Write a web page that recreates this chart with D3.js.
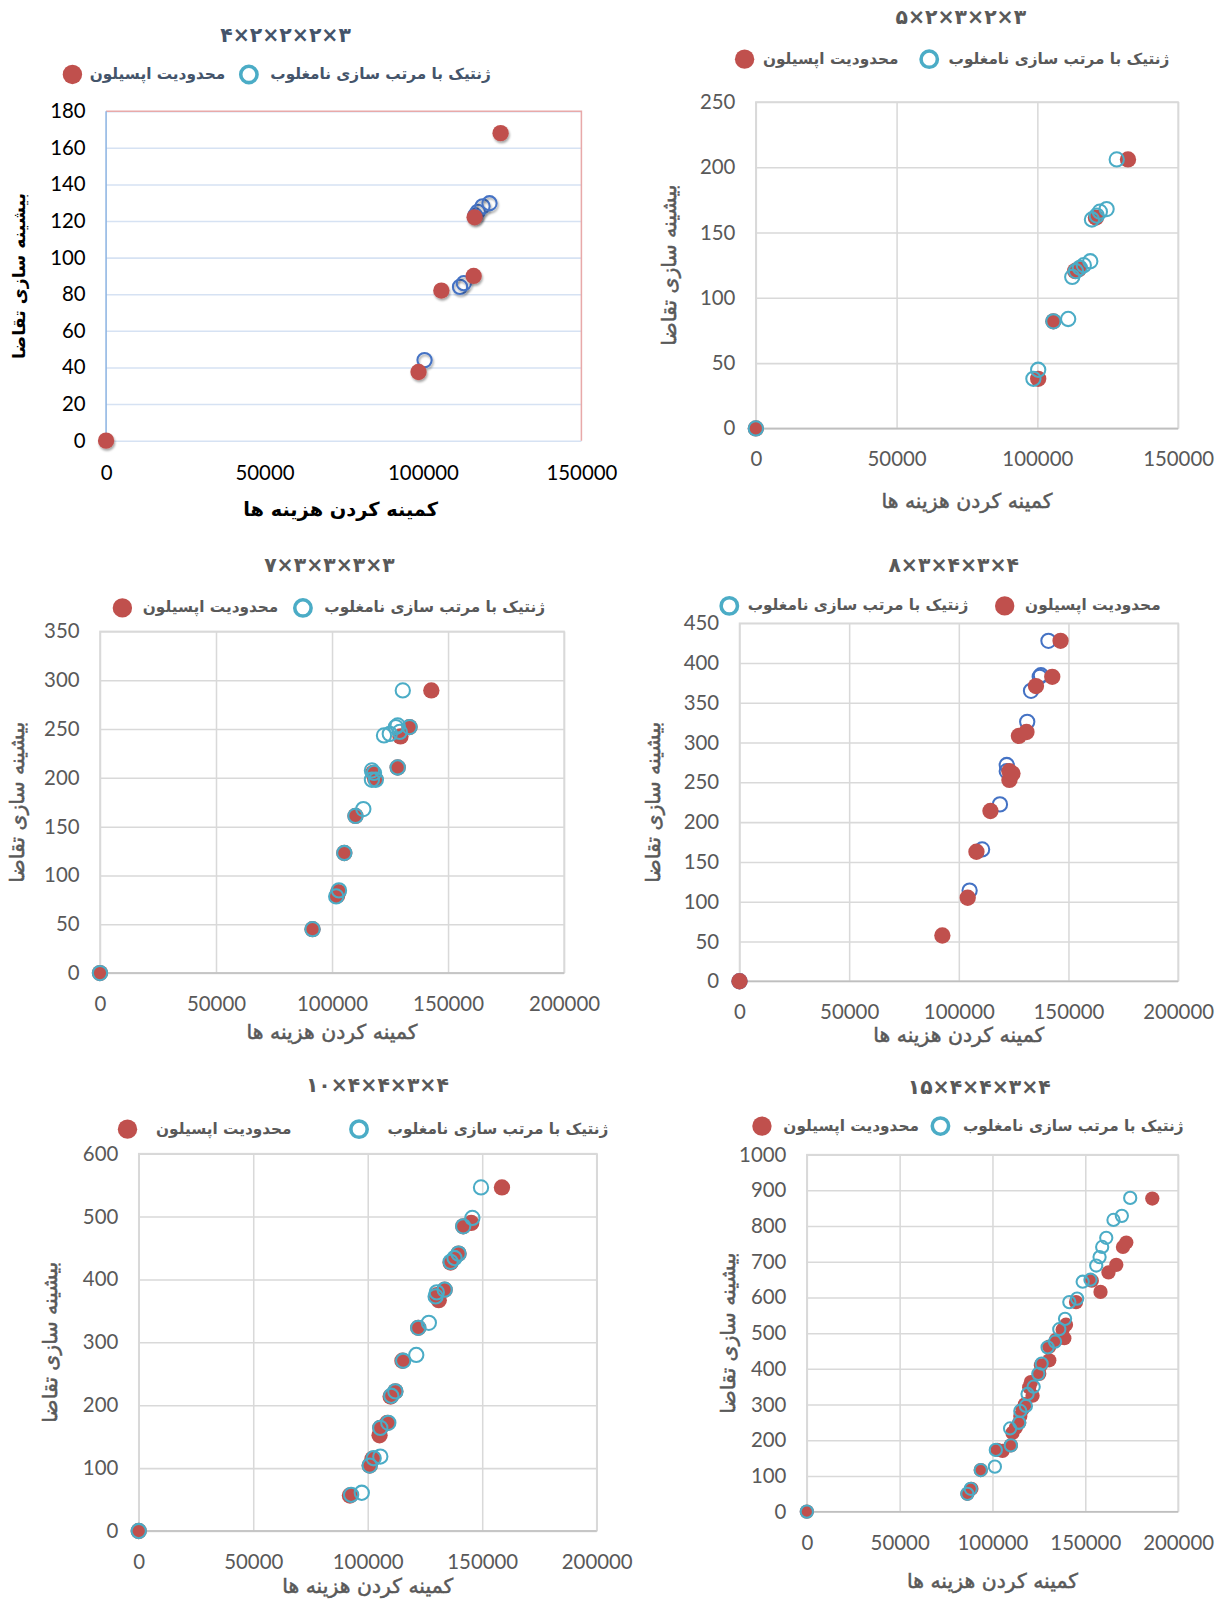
<!DOCTYPE html>
<html>
<head>
<meta charset="utf-8">
<script src="https://cdn.jsdelivr.net/npm/d3@7"></script>
<style>
  body { margin: 0; background: #fff; }
</style>
</head>
<body>
<script>
// chart titles, axis limits, legend texts
var titles = ["۴×۲×۲×۲×۳", "۵×۲×۳×۲×۳", "۷×۳×۳×۳×۳", "۸×۳×۴×۳×۴", "۱۰×۴×۴×۳×۴", "۱۵×۴×۴×۳×۴"];
var xMaxes = [150000, 150000, 200000, 200000, 200000, 200000];
var yMaxes = [180, 250, 350, 450, 600, 1000];
var ySteps = [20, 50, 50, 50, 100, 100];
var epsLabel = "محدودیت اپسیلون";
var genLabel = "ژنتیک با مرتب سازی نامغلوب";
var xTitle = "کمینه کردن هزینه ها";
var yTitle = "بیشینه سازی تقاضا";

// [cost, demand] pairs
var eps1 = [[0, 0], [98600, 37.5], [105800, 82], [116000, 90], [116300, 122], [124500, 168]];
var gen1 = [[100500, 44], [111700, 84], [112900, 86], [116500, 123], [117300, 125], [118800, 128], [121000, 129.7]];

var eps2 = [[0, 0], [100300, 38], [105700, 82], [113400, 120.5], [114700, 122], [120800, 161.5], [132200, 206]];
var gen2 = [[0, 0], [98600, 38], [100300, 44.9], [105700, 82], [110950, 83.8], [112400, 116], [113700, 120.5],
  [115100, 123], [116500, 125], [118800, 128], [119400, 160], [121100, 163], [122200, 166], [124600, 168], [128200, 206]];

var eps3 = [[0, 0], [91600, 45], [102200, 79.5], [102700, 83], [105300, 123], [110100, 161], [117700, 205],
  [118600, 199], [128300, 210.6], [129500, 242.4], [133400, 252], [142800, 289.5]];
var gen3 = [[0, 0], [91600, 45], [101800, 78.5], [103000, 84.7], [105300, 123], [110100, 161], [113500, 168],
  [117200, 207.6], [118100, 205], [117200, 198], [118900, 198], [122400, 243.4], [124900, 245], [127500, 252],
  [128300, 253.7], [128300, 210.6], [133400, 252], [130500, 289.5], [129200, 247]];

var eps4 = [[0, 0], [92500, 57.5], [104060, 104.9], [108040, 162.8], [114430, 214], [123080, 253], [123080, 264],
  [124470, 261], [127400, 308.3], [130860, 313.3], [135180, 371], [142610, 382.6], [146400, 427.9]];
var gen4 = [[0, 0], [104930, 114], [110630, 165.7], [118760, 222.3], [121870, 271.8], [121870, 264], [131200, 326],
  [132930, 365], [136900, 382.6], [137450, 384.6], [140880, 427.9]];

var eps5 = [[0, 0], [92240, 56.5], [100860, 104], [102070, 114.6], [105170, 152.3], [105500, 164], [108600, 172],
  [110000, 213.7], [112070, 222], [115170, 270.7], [122070, 323], [131030, 367], [130170, 375], [133600, 383.7],
  [136200, 426.8], [139660, 441], [141700, 484.4], [145200, 489.8], [158620, 546.3]];
var gen5 = [[0, 0], [92760, 57.6], [97410, 60.8], [100860, 104], [102600, 115.7], [105500, 118.4], [105500, 164],
  [109000, 172], [110300, 215], [112070, 222], [115500, 270.7], [121200, 279.9], [122070, 323], [126700, 331],
  [129650, 373], [130170, 379.4], [133600, 383.7], [136200, 427.9], [137900, 434], [139660, 441], [141700, 484.4],
  [145700, 497.8], [149480, 546.3]];

var eps6 = [[0, 0], [86490, 50], [88650, 64], [93690, 116.5], [102700, 173], [105400, 170], [109900, 185.6],
  [110800, 220.6], [112600, 234.8], [114400, 249], [115000, 268], [116200, 287], [117500, 301], [119800, 348.5],
  [120700, 362.7], [121600, 324.8], [125200, 386], [126100, 410], [130600, 424], [130600, 462], [134200, 481],
  [138700, 485.8], [137800, 509.5], [139600, 523.7], [145000, 587], [153500, 646.8], [158200, 615.5],
  [162500, 670], [166700, 691.3], [170300, 741.5], [172100, 753.8], [186100, 877]];
var gen6 = [[0, 0], [86490, 50], [88300, 64], [93700, 116.5], [101300, 126], [101800, 173], [109900, 185.6],
  [109500, 233], [114400, 249], [115000, 282], [118000, 296], [118900, 329.5], [122200, 350], [124700, 386],
  [126500, 414.8], [129700, 460], [133700, 476], [136000, 511], [139100, 540], [141400, 587], [145600, 596.6],
  [148600, 644], [152800, 649.6], [155900, 689.4], [157700, 713], [159100, 741.5], [161300, 767], [165200, 817],
  [169700, 828.6], [174200, 878.8]];

var epsSeries = [eps1, eps2, eps3, eps4, eps5, eps6];
var genSeries = [gen1, gen2, gen3, gen4, gen5, gen6];

var red = "#c0504d";
var teal = "#4bacc6";
var darkBlue = "#4472c4";
var persianFont = "'DejaVu Sans', sans-serif";
var numFont = "Lato, 'Open Sans', sans-serif";

// layout, in the coordinates of the 1200 wide picture
var panels = [
  { l: 104, r: 570, t: 109, b: 432, tx: 280, ty: 35, ly: 73, redX: 71, epsTx: 88, genMx: 244, genTx: 265,
    yTx: 20, xTy: 500, r0: 8, first: true },
  { l: 741, r: 1155, t: 100, b: 420, tx: 942, ty: 18, ly: 58, redX: 730, epsTx: 748, genMx: 911, genTx: 930,
    yTx: 657, xTy: 492, r0: 8 },
  { l: 98, r: 553, t: 619, b: 954, tx: 323, ty: 555, ly: 596, redX: 120, epsTx: 140, genMx: 297, genTx: 318,
    yTx: 18, xTy: 1013, r0: 8 },
  { l: 725, r: 1155, t: 611, b: 962, tx: 935, ty: 555, ly: 594, redX: 985, epsTx: 1005, genMx: 715, genTx: 733,
    yTx: 641, xTy: 1016, r0: 8, redTop: true, ring: darkBlue },
  { l: 136, r: 585, t: 1131, b: 1501, tx: 370, ty: 1065, ly: 1107, redX: 125, epsTx: 153, genMx: 352, genTx: 380,
    yTx: 50, xTy: 1556, r0: 8 },
  { l: 791, r: 1155, t: 1132, b: 1482, tx: 960, ty: 1067, ly: 1104, redX: 747, epsTx: 768, genMx: 922, genTx: 944,
    yTx: 715, xTy: 1551, r0: 7 }
];

var svg = d3.select("body").append("svg")
  .attr("width", 1224)
  .attr("height", 1599);

// soft shadow used by the first chart
var defs = svg.append("defs");
defs.append("filter").attr("id", "shadow")
  .attr("x", "-50%").attr("y", "-50%").attr("width", "200%").attr("height", "200%")
  .append("feDropShadow")
  .attr("dx", 1).attr("dy", 2).attr("stdDeviation", 1.2)
  .attr("flood-color", "#000").attr("flood-opacity", 0.35);

var root = svg.append("g").attr("transform", "scale(1.02)");

function drawPanel(i) {
  var p = panels[i];
  var g = root.append("g");
  var textColor = p.first ? "#000" : "#595959";
  var titleColor = p.first ? "#44546a" : "#595959";

  var x = d3.scaleLinear().domain([0, xMaxes[i]]).range([p.l, p.r]);
  var y = d3.scaleLinear().domain([0, yMaxes[i]]).range([p.b, p.t]);
  var yTicks = d3.range(0, yMaxes[i] + 1, ySteps[i]);
  var xTicks = d3.range(0, xMaxes[i] + 1, 50000);

  // horizontal gridlines + y labels
  var yAxis = g.append("g")
    .attr("transform", "translate(" + p.l + ",0)")
    .call(d3.axisLeft(y).tickValues(yTicks).tickSize(-(p.r - p.l)).tickPadding(20).tickFormat(d3.format("d")));
  yAxis.select(".domain").remove();
  yAxis.selectAll("line")
    .attr("stroke", p.first ? "#d6e2f3" : "#d9d9d9")
    .attr("stroke-width", 1.5);
  yAxis.selectAll("text")
    .attr("fill", textColor)
    .style("font-family", numFont)
    .style("font-size", "20px");

  // vertical gridlines + x labels
  var xAxis = g.append("g")
    .attr("transform", "translate(0," + p.b + ")")
    .call(d3.axisBottom(x).tickValues(xTicks).tickSize(p.first ? 0 : -(p.b - p.t)).tickPadding(p.first ? 24 : 23)
      .tickFormat(d3.format("d")));
  xAxis.select(".domain").remove();
  xAxis.selectAll("line")
    .attr("stroke", "#d9d9d9")
    .attr("stroke-width", 1.5);
  xAxis.selectAll("text")
    .attr("fill", textColor)
    .style("font-family", numFont)
    .style("font-size", "20px");

  if (p.first) {
    // coloured frame of the first chart
    g.append("path")
      .attr("d", "M" + p.l + "," + p.t + "H" + p.r + "V" + p.b)
      .attr("fill", "none").attr("stroke", "#e8a9a9").attr("stroke-width", 1.5);
    g.append("line")
      .attr("x1", p.l).attr("x2", p.l).attr("y1", p.t).attr("y2", p.b)
      .attr("stroke", "#8db3e2").attr("stroke-width", 1.5);
  } else {
    g.append("rect")
      .attr("x", p.l).attr("y", p.t).attr("width", p.r - p.l).attr("height", p.b - p.t)
      .attr("fill", "none").attr("stroke", "#d9d9d9").attr("stroke-width", 1.5);
    g.append("line")
      .attr("x1", p.l).attr("x2", p.r).attr("y1", p.b).attr("y2", p.b)
      .attr("stroke", "#bfbfbf").attr("stroke-width", 1.5);
  }

  // title
  g.append("text")
    .attr("x", p.tx).attr("y", p.ty)
    .attr("text-anchor", "middle").attr("dominant-baseline", "middle")
    .attr("fill", titleColor)
    .style("font-family", persianFont)
    .style("font-size", "20px").style("font-weight", "bold")
    .attr("direction", "ltr")
    .text(titles[i]);

  // legend
  var legColor = p.first ? "#44546a" : "#595959";
  g.append("circle")
    .attr("cx", p.redX).attr("cy", p.ly).attr("r", 9.5)
    .attr("fill", red);
  g.append("text")
    .attr("x", p.epsTx).attr("y", p.ly)
    .attr("dominant-baseline", "middle")
    .attr("fill", legColor)
    .style("font-family", persianFont).style("font-size", "15px").style("font-weight", "bold")
    .text(epsLabel);
  g.append("circle")
    .attr("cx", p.genMx).attr("cy", p.ly).attr("r", 8)
    .attr("fill", "#fff").attr("stroke", teal).attr("stroke-width", 3.5);
  g.append("text")
    .attr("x", p.genTx).attr("y", p.ly)
    .attr("dominant-baseline", "middle")
    .attr("fill", legColor)
    .style("font-family", persianFont).style("font-size", "15px").style("font-weight", "bold")
    .text(genLabel);

  // axis titles: bold on the first chart, semi-bold look elsewhere
  var xt = g.append("text")
    .attr("x", (p.l + p.r) / 2 + (p.first ? -3 : 0)).attr("y", p.xTy)
    .attr("text-anchor", "middle").attr("dominant-baseline", "middle")
    .attr("fill", textColor)
    .style("font-family", persianFont).style("font-size", p.first ? "19px" : "20px")
    .style("font-weight", p.first ? "bold" : "normal")
    .text(xTitle);
  var yt = g.append("text")
    .attr("transform", "translate(" + p.yTx + "," + ((p.t + p.b) / 2) + ") rotate(-90)")
    .attr("text-anchor", "middle").attr("dominant-baseline", "middle")
    .attr("fill", textColor)
    .style("font-family", persianFont).style("font-size", p.first ? "17px" : "20px")
    .style("font-weight", p.first ? "bold" : "normal")
    .text(yTitle);
  if (!p.first) {
    xt.attr("stroke", textColor).attr("stroke-width", 0.5);
    yt.attr("stroke", textColor).attr("stroke-width", 0.5);
  }

  // points
  var ringColor = p.ring || (p.first ? darkBlue : teal);
  function drawEps() {
    g.append("g").selectAll("circle")
      .data(epsSeries[i]).enter().append("circle")
      .attr("cx", d => x(d[0])).attr("cy", d => y(d[1]))
      .attr("r", p.r0)
      .attr("fill", red)
      .attr("filter", p.first ? "url(#shadow)" : null);
  }
  function drawGen() {
    g.append("g").selectAll("circle")
      .data(genSeries[i]).enter().append("circle")
      .attr("cx", d => x(d[0])).attr("cy", d => y(d[1]))
      .attr("r", p.r0 - 1)
      .attr("fill", "none")
      .attr("stroke", ringColor)
      .attr("stroke-width", 2)
      .attr("filter", p.first ? "url(#shadow)" : null);
  }
  if (p.first || p.redTop) {
    drawGen();
    drawEps();
  } else {
    drawEps();
    drawGen();
  }
}

for (var i = 0; i < panels.length; i++) drawPanel(i);
</script>
</body>
</html>
